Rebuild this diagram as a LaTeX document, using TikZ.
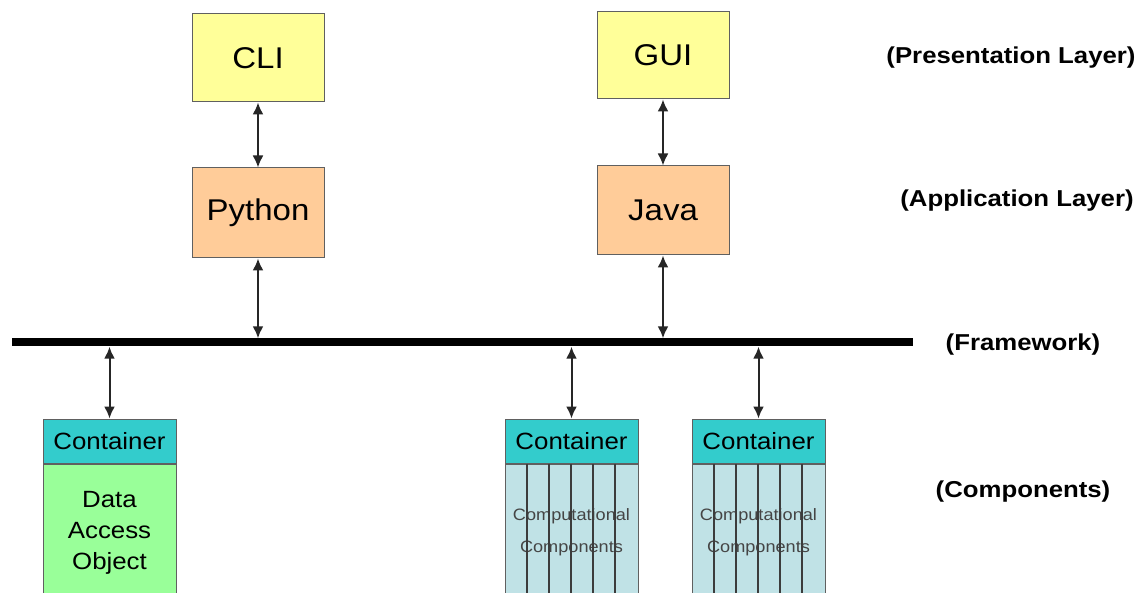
\documentclass[tikz,border=0pt]{standalone}
\usepackage{fontspec}
\setmainfont{Liberation Sans}[FakeStretch=1.1]
\newfontfamily\labelfont{Liberation Sans}[FakeStretch=1.12]
\usetikzlibrary{arrows.meta}
\definecolor{pyellow}{HTML}{FFFF99}
\definecolor{porange}{HTML}{FFCC99}
\definecolor{pteal}{HTML}{33CCCC}
\definecolor{pgreen}{HTML}{99FF99}
\definecolor{pblue}{HTML}{C0E2E6}
\definecolor{pborder}{HTML}{606060}
\definecolor{pstripe}{HTML}{3C3C3C}
\definecolor{ptext}{HTML}{454545}
\begin{document}
\begin{tikzpicture}[x=1pt,y=-1pt,
  box/.style={draw=pborder, line width=1pt, inner sep=0pt, minimum width=132pt,
    font=\fontsize{30}{36}\selectfont},
  header/.style={draw=pborder, line width=1pt, fill=pteal, inner sep=0pt,
    minimum width=133pt, minimum height=44pt, font=\fontsize{23.5}{28}\selectfont},
  body/.style={draw=pborder, line width=1pt, inner sep=0pt, minimum width=133pt,
    minimum height=137pt},
  stripe/.style={draw=pstripe, line width=1.8pt},
  dbl/.style={line width=2pt, draw=black!85,
    {Latex[length=12pt,width=11pt]}-{Latex[length=12pt,width=11pt]}},
  lbl/.style={font=\labelfont\fontsize{23}{27}\selectfont\bfseries, inner sep=0pt}]
\clip (0,0) rectangle (1140,593);
\fill[white] (0,0) rectangle (1140,593);

\node[box, fill=pyellow, minimum height=88pt] (cli) at (258,58) {CLI};
\node[box, fill=porange, minimum height=90pt] (python) at (258,213) {Python};
\node[box, fill=pyellow, minimum height=87pt] (gui) at (663,55.5) {GUI};
\node[box, fill=porange, minimum height=89pt] (java) at (663,210.5) {Java};

\node[fill=black, inner sep=0pt, minimum width=901pt, minimum height=8pt] (bar) at (462.5,342.5) {};

% containers
\node[header] (c1) at (109.5,441) {Container};
\node[body, fill=pgreen, anchor=north, align=center, font=\fontsize{23.5}{31}\selectfont] (dao) at (c1.south) {Data\\Access\\Object};

\node[header] (c2) at (571.5,441) {Container};
\node[body, fill=pblue, anchor=north, align=center, text=ptext, font=\fontsize{16.5}{32}\selectfont] (comp1) at (c2.south) {Computational\\Components};
\node[header] (c3) at (758.5,441) {Container};
\node[body, fill=pblue, anchor=north, align=center, text=ptext, font=\fontsize{16.5}{32}\selectfont] (comp2) at (c3.south) {Computational\\Components};

\foreach \n in {comp1,comp2}{
  \foreach \i in {1,...,5}{
    \draw[stripe] ([xshift=\i*22.17pt]\n.north west) -- ([xshift=\i*22.17pt]\n.south west);
  }
}

% connectors
\draw[dbl] (cli.south) -- (python.north);
\draw[dbl] (gui.south) -- (java.north);
\draw[dbl] (python.south) -- (python.south |- bar.north);
\draw[dbl] (java.south) -- (java.south |- bar.north);
\draw[dbl] (c1.north) -- (c1.north |- bar.south);
\draw[dbl] (c2.north) -- (c2.north |- bar.south);
\draw[dbl] (c3.north) -- (c3.north |- bar.south);

% layer labels
\node[lbl] (lpres) at (1011,58) {(Presentation Layer)};
\node[lbl] (lapp) at (1017,201) {(Application Layer)};
\node[lbl] (lfw) at (1023,345) {(Framework)};
\node[lbl] (lcomp) at (1023,492) {(Components)};
\end{tikzpicture}
\end{document}
